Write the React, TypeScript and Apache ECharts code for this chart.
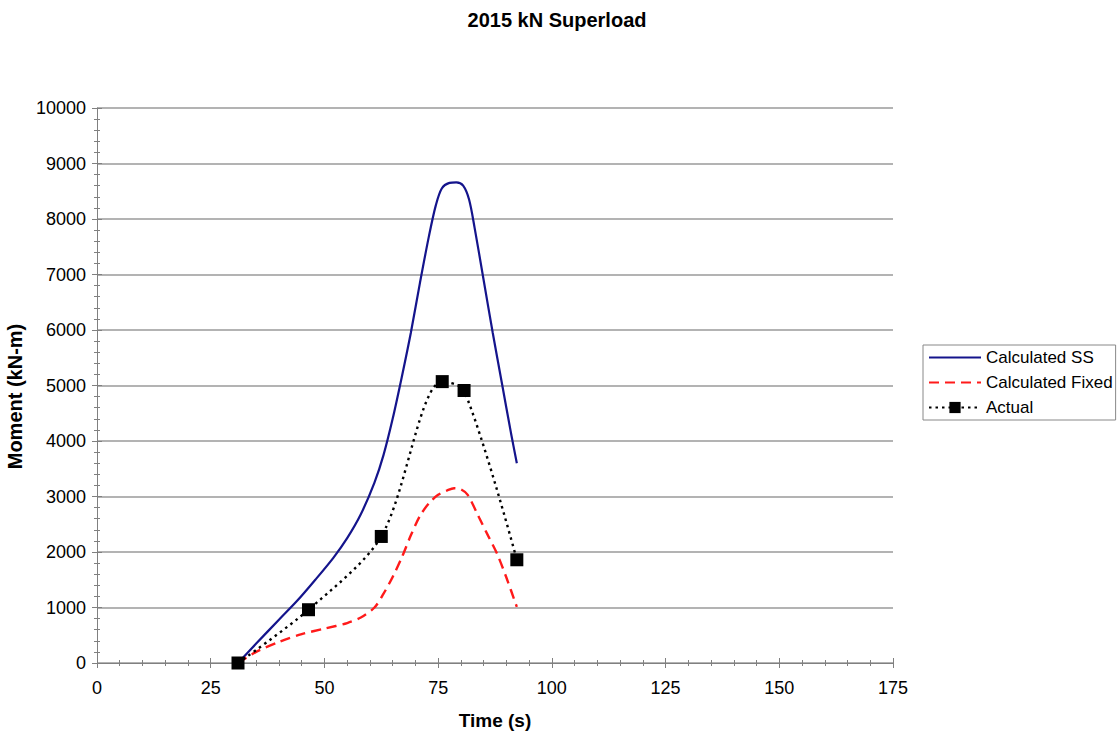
import React, { useEffect, useRef } from "react";
import * as echarts from "echarts";

// Calculated simply-supported moment
const ssTime = [31, 35, 40, 44, 48, 52, 55, 58, 61, 63, 65, 67, 69, 71, 73, 74.5, 75.8, 77.5, 79, 80.5, 81.8, 83, 85, 87, 89, 91, 92.3];
const ssMoment = [0, 350, 780, 1120, 1500, 1900, 2250, 2680, 3250, 3750, 4400, 5150, 5950, 6850, 7700, 8250, 8550, 8650, 8660, 8600, 8350, 7850, 6900, 5950, 5050, 4150, 3600];

// Calculated fixed-end moment
const fixedTime = [31, 35, 40, 45, 50, 55, 58, 61, 63, 65, 67, 69, 71, 73, 75, 77, 78.5, 80, 81.5, 84, 86, 88, 90, 92.3];
const fixedMoment = [0, 200, 380, 520, 620, 720, 820, 1000, 1250, 1550, 1900, 2300, 2650, 2880, 3030, 3110, 3150, 3130, 3030, 2620, 2290, 1960, 1540, 1010];

// Measured moment
const actualTime = [31, 46.5, 62.5, 75.9, 80.7, 92.3];
const actualMoment = [0, 960, 2280, 5070, 4910, 1860];

const xTicks = [0, 25, 50, 75, 100, 125, 150, 175];
const yTicks = [0, 1000, 2000, 3000, 4000, 5000, 6000, 7000, 8000, 9000, 10000];

const FONT = "'Liberation Sans', Arial, sans-serif";
const zip = (a: number[], b: number[]) => a.map((v, i) => [v, b[i]]);

export default function App() {
  const ref = useRef<HTMLDivElement>(null);

  useEffect(() => {
    if (!ref.current) return;
    const chart = echarts.init(ref.current, null, { renderer: "svg" });

    const xMin = xTicks[0];
    const xMax = xTicks[xTicks.length - 1];
    const xStep = xTicks[1] - xTicks[0];
    const yMin = yTicks[0];
    const yMax = yTicks[yTicks.length - 1];
    const yStep = yTicks[1] - yTicks[0];

    const axisGray = "#808080";
    const tickCommon = { lineStyle: { color: axisGray, width: 1 } };
    const plain = (v: number) => String(v);

    chart.setOption({
      animation: false,
      backgroundColor: "#ffffff",
      title: {
        text: "2015 kN Superload",
        left: 552,
        textAlign: "center",
        top: 5,
        textStyle: { fontFamily: FONT, fontSize: 20, fontWeight: "bold", color: "#000" },
      },
      grid: { left: 97, right: 224, top: 108, bottom: 73, outerBoundsMode: "none", containLabel: false },
      legend: {
        orient: "vertical",
        left: 923,
        top: 345,
        padding: [4, 3, 4, 5],
        itemGap: 8,
        itemWidth: 52,
        itemHeight: 14,
        borderColor: "#888",
        borderWidth: 1,
        borderRadius: 0,
        textStyle: { fontFamily: FONT, fontSize: 17, color: "#000" },
        data: [
          { name: "Calculated SS", itemStyle: { opacity: 0 } },
          { name: "Calculated Fixed", itemStyle: { opacity: 0 } },
          { name: "Actual" },
        ],
      },
      xAxis: [
        {
          type: "value",
          min: xMin,
          max: xMax,
          interval: xStep,
          position: "bottom",
          name: "Time (s)",
          nameLocation: "middle",
          nameGap: 48,
          nameTextStyle: { fontFamily: FONT, fontSize: 19, fontWeight: "bold", color: "#000" },
          axisLine: { show: true, onZero: false, lineStyle: { color: axisGray, width: 1 } },
          axisTick: { show: true, inside: false, length: 5, ...tickCommon },
          minorTick: { show: true, splitNumber: 5, length: 3, ...tickCommon },
          axisLabel: { fontFamily: FONT, fontSize: 18, color: "#000", margin: 16, formatter: plain },
          splitLine: { show: false },
        },
        {
          type: "value",
          min: xMin,
          max: xMax,
          interval: xStep,
          position: "bottom",
          axisLine: { show: false, onZero: false },
          axisTick: { show: true, inside: true, length: 5, ...tickCommon },
          minorTick: { show: true, splitNumber: 5, length: 3, ...tickCommon },
          axisLabel: { show: false },
          splitLine: { show: false },
        },
      ],
      yAxis: [
        {
          type: "value",
          min: yMin,
          max: yMax,
          interval: yStep,
          position: "left",
          name: "Moment (kN-m)",
          nameLocation: "middle",
          nameGap: 68,
          nameTextStyle: {
            fontFamily: FONT,
            fontSize: 20,
            fontWeight: "bold",
            color: "#000",
            padding: [0, 22, 0, 0],
          },
          axisLine: { show: true, onZero: false, lineStyle: { color: axisGray, width: 1 } },
          axisTick: { show: true, inside: false, length: 5, ...tickCommon },
          minorTick: { show: true, splitNumber: 5, length: 3, ...tickCommon },
          axisLabel: { fontFamily: FONT, fontSize: 18, color: "#000", margin: 11, formatter: plain },
          splitLine: { show: true, lineStyle: { color: "#9a9a9a", width: 1.6 } },
        },
        {
          type: "value",
          min: yMin,
          max: yMax,
          interval: yStep,
          position: "left",
          axisLine: { show: false, onZero: false },
          axisTick: { show: true, inside: true, length: 5, ...tickCommon },
          minorTick: { show: true, splitNumber: 5, length: 3, ...tickCommon },
          axisLabel: { show: false },
          splitLine: { show: false },
        },
      ],
      series: [
        {
          name: "Calculated SS",
          type: "line",
          data: zip(ssTime, ssMoment),
          symbol: "none",
          smooth: 0.3,
          color: "#14148c",
          lineStyle: { color: "#14148c", width: 2.2, type: "solid" },
          z: 3,
        },
        {
          name: "Calculated Fixed",
          type: "line",
          data: zip(fixedTime, fixedMoment),
          symbol: "none",
          smooth: 0.3,
          color: "#ff1a1a",
          lineStyle: { color: "#ff1a1a", width: 2.4, type: [10, 6] },
          z: 3,
        },
        {
          name: "Actual",
          type: "line",
          data: zip(actualTime, actualMoment),
          symbol: "rect",
          symbolSize: 13,
          smooth: 0.3,
          color: "#000",
          itemStyle: { color: "#000" },
          lineStyle: { color: "#000", width: 2.4, type: [2.5, 4] },
          z: 4,
        },
      ],
    });

    return () => chart.dispose();
  }, []);

  return (
    <div
      ref={ref}
      style={{ position: "fixed", left: 0, top: 0, width: 1117, height: 736, background: "#fff" }}
    />
  );
}
